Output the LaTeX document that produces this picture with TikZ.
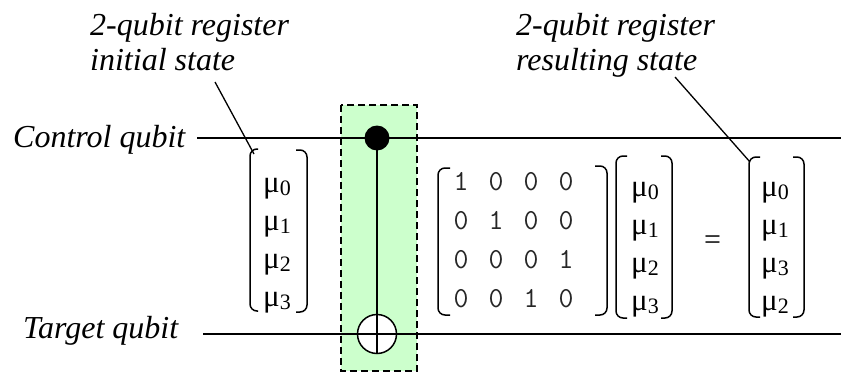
\documentclass[tikz,border=0pt]{standalone}
\usepackage{fontspec}
\setmainfont{Liberation Serif}
\definecolor{gatefill}{HTML}{CCFFCC}
\newcommand\muent[1]{μ\raisebox{-3pt}{\fontsize{22}{24}\selectfont #1}}
\begin{document}
\begin{tikzpicture}[x=1pt,y=-1pt,
  lbl/.style={font=\fontsize{32}{36}\selectfont\itshape, inner sep=0pt, anchor=base west},
  wire/.style={line width=2pt},
  brk/.style={line width=1.5pt, rounded corners=7pt},
  ent/.style={font=\fontsize{31}{34}\selectfont, inner sep=0pt, anchor=base west},
  dig/.style={font=\fontsize{29}{32}\selectfont\ttfamily, text=black!85, inner sep=0pt, anchor=base},
  lead/.style={line width=1.3pt},
  gatebox/.style={fill=gatefill, draw=black, line width=1.5pt, dash pattern=on 7pt off 4pt}]
\useasboundingbox (0,0) rectangle (841,372);

% gate background
\draw[gatebox] (341,105) rectangle (417,371);

% labels
\node[lbl] (ctl) at (13,147) {Control qubit};
\node[lbl] (tgt) at (23,338) {Target qubit};
\node[lbl] (ini1) at (90,35) {2-qubit register};
\node[lbl] (ini2) at (90,70) {initial state};
\node[lbl] (res1) at (516,35) {2-qubit register};
\node[lbl] (res2) at (516,70) {resulting state};

% wires
\coordinate (cw0) at (197,138);
\coordinate (cw1) at (841,138);
\coordinate (tw0) at (203,334);
\coordinate (tw1) at (841,334);
\draw[wire] (cw0) -- (cw1);
\draw[wire] (tw0) -- (tw1);

% CNOT gate
\coordinate (dotc) at (377,138);
\coordinate (tgc) at (377,334);
\draw[line width=1.5pt] (dotc) -- (377,353.5);
\fill (dotc) circle (12.5);
\draw[line width=1.5pt, fill=white] (tgc) circle (19.5);
\draw[line width=1.5pt] (357.5,334) -- (396.5,334);
\draw[line width=1.5pt] (377,314.5) -- (377,353.5);

% left vector
\draw[brk] (258,149) -- (250,149) -- (250,311) -- (258,311);
\draw[brk] (296,150) -- (307,150) -- (307,312) -- (296,312);
\node[ent] (a0) at (263,192) {\muent{0}};
\node[ent] (a1) at (263,230) {\muent{1}};
\node[ent] (a2) at (263,268) {\muent{2}};
\node[ent] (a3) at (263,306) {\muent{3}};

% matrix
\draw[brk] (450,168) -- (438,168) -- (438,315) -- (450,315);
\draw[brk] (595,166) -- (607,166) -- (607,315) -- (595,315);
\foreach \r/\yy in {1/190,2/229,3/268,4/307}{
  \foreach \c/\xx in {1/461,2/496,3/531,4/566}{
    \pgfmathtruncatemacro{\val}{(\r==\c && \r<3) || (\r==3 && \c==4) || (\r==4 && \c==3) ? 1 : 0}
    \node[dig] (m\r\c) at (\xx,\yy) {\val};
  }
}

% second vector
\draw[brk] (627,156) -- (616,156) -- (616,318) -- (627,318);
\draw[brk] (661,156) -- (672,156) -- (672,318) -- (661,318);
\node[ent] (b0) at (631,196) {\muent{0}};
\node[ent] (b1) at (631,234) {\muent{1}};
\node[ent] (b2) at (631,272) {\muent{2}};
\node[ent] (b3) at (631,310) {\muent{3}};

% equals
\node[font=\fontsize{30}{34}\selectfont, inner sep=0pt] (eq) at (712.5,243) {=};

% result vector
\draw[brk] (760,157) -- (749,157) -- (749,317) -- (760,317);
\draw[brk] (793,157) -- (804,157) -- (804,317) -- (793,317);
\node[ent] (c0) at (761,196) {\muent{0}};
\node[ent] (c1) at (761,234) {\muent{1}};
\node[ent] (c2) at (761,272) {\muent{3}};
\node[ent] (c3) at (761,310) {\muent{2}};

% leader lines
\coordinate (l1s) at (215,82);
\coordinate (l1e) at (254,154);
\coordinate (l2s) at (675,77);
\coordinate (l2e) at (750,162);
\draw[lead] (l1s) -- (l1e);
\draw[lead] (l2s) -- (l2e);
\end{tikzpicture}
\end{document}
